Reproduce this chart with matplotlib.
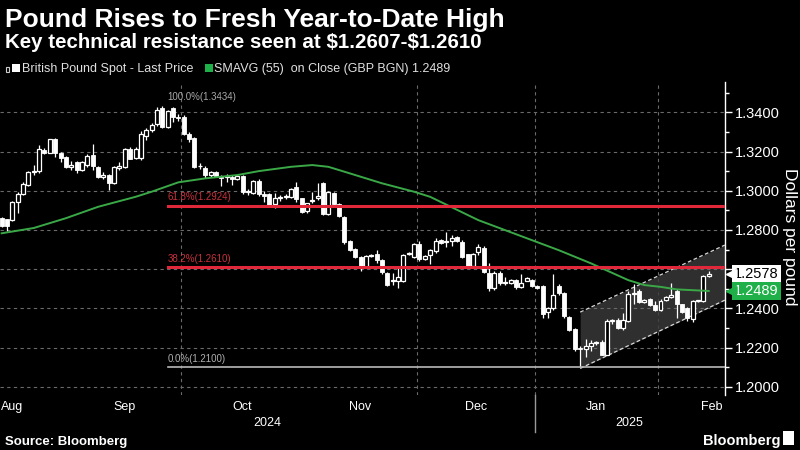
import numpy as np
import pandas as pd
import matplotlib
matplotlib.use("Agg")
import matplotlib.pyplot as plt
import matplotlib.transforms as mtransforms
from matplotlib import font_manager
from matplotlib.ticker import MultipleLocator, FuncFormatter
from matplotlib.patches import Rectangle

# ********** Data *************************************************************

dates = pd.bdate_range("2024-08-14", "2025-02-14")

opens = [1.2860, 1.2855, 1.2851, 1.2945, 1.2985, 1.3030, 1.3095, 1.3100, 1.3210, 1.3195,
         1.3262, 1.3190, 1.3172, 1.3122, 1.3145, 1.3105, 1.3130, 1.3180, 1.3120, 1.3072,
         1.3080, 1.3040, 1.3118, 1.3120, 1.3215, 1.3165, 1.3165, 1.3280, 1.3310, 1.3340,
         1.3420, 1.3327, 1.3420, 1.3376, 1.3378, 1.3290, 1.3268, 1.3124, 1.3118, 1.3080,
         1.3097, 1.3070, 1.3068, 1.3070, 1.3058, 1.3075, 1.2995, 1.2990, 1.3050, 1.2985,
         1.2985, 1.2930, 1.2965, 1.2970, 1.2970, 1.3020, 1.2962, 1.2895, 1.2950, 1.2965,
         1.3040, 1.2880, 1.2990, 1.2930, 1.2865, 1.2745, 1.2705, 1.2660, 1.2612, 1.2668,
         1.2675, 1.2645, 1.2580, 1.2540, 1.2540, 1.2540, 1.2680, 1.2660, 1.2730, 1.2650,
         1.2670, 1.2695, 1.2750, 1.2740, 1.2745, 1.2765, 1.2740, 1.2675, 1.2615, 1.2690,
         1.2710, 1.2580, 1.2505, 1.2580, 1.2530, 1.2530, 1.2545, 1.2510, 1.2540, 1.2545,
         1.2515, 1.2515, 1.2380, 1.2400, 1.2515, 1.2480, 1.2355, 1.2295, 1.2200, 1.2195,
         1.2210, 1.2225, 1.2230, 1.2165, 1.2335, 1.2340, 1.2300, 1.2335, 1.2475, 1.2490,
         1.2435, 1.2450, 1.2415, 1.2390, 1.2445, 1.2460, 1.2490, 1.2420, 1.2400, 1.2345,
         1.2440, 1.2440, 1.2565]
highs = [1.2865, 1.2858, 1.2948, 1.2993, 1.3045, 1.3100, 1.3131, 1.3233, 1.3220, 1.3265,
         1.3267, 1.3200, 1.3175, 1.3150, 1.3150, 1.3150, 1.3185, 1.3240, 1.3125, 1.3095,
         1.3085, 1.3125, 1.3145, 1.3220, 1.3225, 1.3225, 1.3305, 1.3320, 1.3345, 1.3428,
         1.3434, 1.3412, 1.3425, 1.3390, 1.3385, 1.3300, 1.3275, 1.3140, 1.3125, 1.3100,
         1.3100, 1.3080, 1.3085, 1.3080, 1.3078, 1.3078, 1.3010, 1.3055, 1.3060, 1.3000,
         1.2990, 1.2990, 1.2980, 1.2985, 1.3015, 1.3045, 1.2965, 1.2940, 1.2995, 1.3040,
         1.3045, 1.3000, 1.2995, 1.2935, 1.2870, 1.2750, 1.2710, 1.2665, 1.2670, 1.2680,
         1.2700, 1.2650, 1.2585, 1.2580, 1.2610, 1.2675, 1.2690, 1.2735, 1.2745, 1.2670,
         1.2705, 1.2760, 1.2755, 1.2790, 1.2775, 1.2768, 1.2750, 1.2680, 1.2685, 1.2730,
         1.2720, 1.2630, 1.2590, 1.2590, 1.2560, 1.2550, 1.2550, 1.2575, 1.2558, 1.2550,
         1.2520, 1.2520, 1.2405, 1.2575, 1.2525, 1.2485, 1.2360, 1.2300, 1.2210, 1.2245,
         1.2240, 1.2235, 1.2240, 1.2345, 1.2345, 1.2350, 1.2375, 1.2490, 1.2525, 1.2500,
         1.2450, 1.2455, 1.2440, 1.2450, 1.2465, 1.2530, 1.2500, 1.2425, 1.2405, 1.2445,
         1.2445, 1.2570, 1.2590]
lows = [1.2815, 1.2796, 1.2845, 1.2886, 1.2978, 1.3025, 1.3080, 1.3090, 1.3185, 1.3190,
        1.3172, 1.3147, 1.3118, 1.3105, 1.3090, 1.3100, 1.3120, 1.3105, 1.3065, 1.3060,
        1.3002, 1.3035, 1.3105, 1.3115, 1.3160, 1.3160, 1.3155, 1.3260, 1.3300, 1.3330,
        1.3322, 1.3318, 1.3350, 1.3355, 1.3285, 1.3250, 1.3115, 1.3110, 1.3065, 1.3070,
        1.3068, 1.3025, 1.3045, 1.3030, 1.3055, 1.2985, 1.2980, 1.2985, 1.2975, 1.2945,
        1.2920, 1.2910, 1.2950, 1.2960, 1.2965, 1.2945, 1.2885, 1.2885, 1.2935, 1.2955,
        1.2875, 1.2875, 1.2925, 1.2865, 1.2730, 1.2695, 1.2655, 1.2590, 1.2605, 1.2660,
        1.2630, 1.2575, 1.2515, 1.2520, 1.2503, 1.2535, 1.2670, 1.2655, 1.2640, 1.2645,
        1.2625, 1.2685, 1.2730, 1.2715, 1.2720, 1.2740, 1.2655, 1.2610, 1.2610, 1.2670,
        1.2580, 1.2490, 1.2495, 1.2520, 1.2520, 1.2525, 1.2500, 1.2505, 1.2538, 1.2510,
        1.2500, 1.2350, 1.2350, 1.2390, 1.2470, 1.2350, 1.2285, 1.2185, 1.2100, 1.2150,
        1.2185, 1.2215, 1.2160, 1.2160, 1.2320, 1.2295, 1.2290, 1.2330, 1.2420, 1.2430,
        1.2430, 1.2410, 1.2385, 1.2385, 1.2440, 1.2455, 1.2350, 1.2375, 1.2335, 1.2330,
        1.2435, 1.2435, 1.2560]
closes = [1.2820, 1.2818, 1.2943, 1.2985, 1.3035, 1.3095, 1.3100, 1.3215, 1.3195, 1.3262,
          1.3190, 1.3168, 1.3120, 1.3130, 1.3105, 1.3145, 1.3178, 1.3125, 1.3072, 1.3082,
          1.3040, 1.3120, 1.3125, 1.3215, 1.3162, 1.3215, 1.3290, 1.3310, 1.3335, 1.3410,
          1.3327, 1.3405, 1.3376, 1.3370, 1.3290, 1.3265, 1.3120, 1.3128, 1.3080, 1.3095,
          1.3073, 1.3066, 1.3073, 1.3062, 1.3075, 1.2992, 1.3000, 1.3050, 1.2985, 1.2975,
          1.2925, 1.2965, 1.2968, 1.2975, 1.3010, 1.2960, 1.2890, 1.2935, 1.2955, 1.2975,
          1.2880, 1.2995, 1.2930, 1.2870, 1.2740, 1.2700, 1.2660, 1.2610, 1.2665, 1.2672,
          1.2645, 1.2585, 1.2520, 1.2545, 1.2560, 1.2670, 1.2682, 1.2730, 1.2650, 1.2668,
          1.2700, 1.2745, 1.2735, 1.2745, 1.2760, 1.2745, 1.2660, 1.2615, 1.2680, 1.2715,
          1.2585, 1.2505, 1.2580, 1.2530, 1.2535, 1.2545, 1.2510, 1.2530, 1.2555, 1.2515,
          1.2505, 1.2370, 1.2400, 1.2470, 1.2480, 1.2360, 1.2290, 1.2195, 1.2195, 1.2210,
          1.2225, 1.2228, 1.2165, 1.2335, 1.2340, 1.2300, 1.2340, 1.2475, 1.2480, 1.2435,
          1.2445, 1.2415, 1.2390, 1.2440, 1.2460, 1.2470, 1.2420, 1.2380, 1.2350, 1.2440,
          1.2440, 1.2565, 1.2578]

# 55-day simple moving average, read at a few dates along the green line
sma_dates = ["2024-08-14", "2024-08-22", "2024-08-30", "2024-09-09", "2024-09-18",
             "2024-09-23", "2024-09-30", "2024-10-07", "2024-10-15", "2024-10-21",
             "2024-10-29", "2024-11-04", "2024-11-07", "2024-11-12", "2024-11-21",
             "2024-11-29", "2024-12-04", "2024-12-17", "2024-12-31", "2025-01-07",
             "2025-01-15", "2025-01-24", "2025-01-29", "2025-02-03", "2025-02-06",
             "2025-02-14"]
sma_values = [1.2783, 1.2810, 1.2860, 1.2918, 1.2969, 1.2995, 1.3043, 1.3063, 1.3080,
              1.3100, 1.3122, 1.3131, 1.3122, 1.3097, 1.3038, 1.2995, 1.2969, 1.2850,
              1.2748, 1.2697, 1.2630, 1.2544, 1.2519, 1.2510, 1.2497, 1.2489]

# Fibonacci retracement from the Sep high to the Jan low
fib_start = "2024-09-26"
fib_levels = [1.3434, 1.2924, 1.2610, 1.2100]
fib_labels = ["100.0%(1.3434)", "61.8%(1.2924)", "38.2%(1.2610)", "0.0%(1.2100)"]

# Rising channel drawn from the Jan low (price at start and at the right edge)
channel_start = "2025-01-13"
channel_upper = [1.2381, 1.2723]
channel_lower = [1.2094, 1.2442]

last_price = 1.2578
sma_last = 1.2489

month_starts = pd.date_range("2024-08-01", "2025-03-01", freq="MS")
grid_months = ["2024-10-01", "2024-12-01", "2025-01-01", "2025-02-01"]

# ********** Fonts *************************************************************

installed = {f.name for f in font_manager.fontManager.ttflist}
narrow = "Liberation Sans Narrow" if "Liberation Sans Narrow" in installed else "Liberation Sans"
is_narrow = narrow == "Liberation Sans Narrow"
plt.rcParams["font.family"] = ["Liberation Sans", "DejaVu Sans"]

# ********** Figure ************************************************************

fig = plt.figure(figsize=(8, 4.5), dpi=100, facecolor="black")
ax = fig.add_axes([0.0, 0.122, 0.906, 0.696])
ax.set_facecolor("black")

pos = np.arange(len(dates))
o = np.array(opens)
h = np.array(highs)
l = np.array(lows)
c = np.array(closes)

x_lo, x_hi = -0.3, 135.0
ax.set_xlim(x_lo, x_hi)
ax.set_ylim(1.1958, 1.3555)

# candles: filled white = down day, hollow = up day
up = c >= o
ax.vlines(pos, l, h, color="white", linewidth=0.9, zorder=3)
bottoms = np.minimum(o, c)
heights = np.maximum(np.abs(c - o), 0.0003)
ax.bar(pos[~up], heights[~up], bottom=bottoms[~up], width=0.74,
       color="white", edgecolor="white", linewidth=0.6, zorder=3.2)
ax.bar(pos[up], heights[up], bottom=bottoms[up], width=0.74,
       color="black", edgecolor="white", linewidth=0.9, zorder=3.2)

# moving average
sma_pos = dates.get_indexer(pd.to_datetime(sma_dates))
ax.plot(sma_pos, sma_values, color="#3aa847", linewidth=1.4, zorder=3.5)

# channel
ch0 = dates.get_loc(pd.Timestamp(channel_start))
ax.fill_between([ch0, x_hi], channel_lower, channel_upper, color="#3b3b3b",
                alpha=0.8, linewidth=0, zorder=1)
for edge in (channel_upper, channel_lower):
    ax.plot([ch0, x_hi], edge, color="#d8d8d8", linewidth=0.9,
            linestyle=(0, (3, 2)), zorder=2)

# fibonacci levels
f0 = dates.get_loc(pd.Timestamp(fib_start))
fib_colors = ["#9a9a9a", "#e0283a", "#e0283a", "#b8b8b8"]
fib_text = ["#a8a8a8", "#c8303c", "#c8303c", "#b0b0b0"]
fib_widths = [0, 2.2, 2.2, 1.2]
for lev, lab, col, tcol, lw in zip(fib_levels, fib_labels, fib_colors, fib_text, fib_widths):
    if lw > 0:
        ax.plot([f0, x_hi], [lev, lev], color=col, linewidth=lw, zorder=4)
    ax.annotate(lab, (f0, lev), xytext=(0, 2.5), textcoords="offset points",
                fontsize=7, color=tcol, ha="left", va="bottom", zorder=4)

# grid
ax.grid(axis="y", color="#6a6a6a", linestyle=(0, (3, 3)), linewidth=0.8, zorder=0.5)
for m in grid_months:
    gx = dates.searchsorted(pd.Timestamp(m)) - 0.5
    ax.axvline(gx, color="#6a6a6a", linestyle=(0, (3, 3)), linewidth=0.8, zorder=0.5)


# tick label under the last-price tag is hidden, as on the terminal
def price_fmt(v, _):
    if abs(v - last_price) < 0.004:
        return ""
    return f"{v:.4f}"


# axes styling
for side in ("left", "top", "bottom"):
    ax.spines[side].set_visible(False)
ax.spines["right"].set_color("white")
ax.spines["right"].set_linewidth(1.0)
ax.yaxis.tick_right()
ax.yaxis.set_major_locator(MultipleLocator(0.02))
ax.yaxis.set_minor_locator(MultipleLocator(0.01))
ax.yaxis.set_major_formatter(FuncFormatter(price_fmt))
ax.tick_params(axis="y", which="major", colors="white", length=5, width=1,
               labelsize=12 if is_narrow else 10.5, pad=2, labelfontfamily=narrow)
ax.tick_params(axis="y", which="minor", colors="white", length=3, width=1)
ax.set_xticks([])

# month and year labels
xt = ax.get_xaxis_transform()
start = dates[0].date()
for i in range(len(month_starts) - 1):
    a = np.busday_count(start, month_starts[i].date())
    b = np.busday_count(start, month_starts[i + 1].date()) - 1
    cx = max((a + b) / 2, x_lo + 2.2)
    ax.text(cx, -0.038, month_starts[i].strftime("%b"), transform=xt, ha="center",
            va="center", color="white", fontsize=10.5 if is_narrow else 9,
            family=narrow, clip_on=False)
year_split = dates.searchsorted(pd.Timestamp("2025-01-01")) - 0.5
ax.plot([year_split, year_split], [0, -0.118], transform=xt, clip_on=False,
        color="#9a9a9a", linewidth=1)
for yx, ytxt in (((x_lo + year_split) / 2, "2024"), ((year_split + x_hi) / 2, "2025")):
    ax.text(yx, -0.0895, ytxt, transform=xt, ha="center", va="center", color="white",
            fontsize=10.5 if is_narrow else 9, family=narrow, clip_on=False)

# price tags on the right axis
bt = mtransforms.blended_transform_factory(ax.transAxes, ax.transData)
for val, fc, tc in ((last_price, "white", "black"), (sma_last, "#20b04a", "white")):
    ax.text(1.013, val, f"{val:.4f}", transform=bt, ha="left", va="center",
            fontsize=12 if is_narrow else 10.5, family=narrow, color=tc, zorder=10,
            clip_on=False, bbox=dict(boxstyle="square,pad=0.12", fc=fc, ec="none"))
    ax.plot([1.009], [val], marker="<", markersize=7, color=fc, transform=bt,
            clip_on=False, zorder=10)

fig.text(0.9875, 0.473, "Dollars per pound", rotation=270, ha="center", va="center",
         color="white", fontsize=12.5, family=narrow)

# titles
fig.text(0.006, 0.94, "Pound Rises to Fresh Year-to-Date High", color="white",
         fontsize=19, fontweight="bold", va="baseline")
fig.text(0.006, 0.893, r"Key technical resistance seen at \$1.2607-\$1.2610", color="white",
         fontsize=14.8, fontweight="bold", va="baseline")

# legend line
fig.add_artist(Rectangle((0.0075, 0.8405), 0.0035, 0.011, transform=fig.transFigure,
                         fc="none", ec="#cccccc", lw=0.8))
fig.add_artist(Rectangle((0.015, 0.840), 0.010, 0.018, transform=fig.transFigure,
                         fc="white", ec="none"))
fig.text(0.028, 0.839, "British Pound Spot - Last Price", color="#e0e0e0", fontsize=9,
         va="baseline")
fig.add_artist(Rectangle((0.256, 0.840), 0.010, 0.018, transform=fig.transFigure,
                         fc="#20b04a", ec="none"))
fig.text(0.268, 0.839, "SMAVG (55)  on Close (GBP BGN) 1.2489", color="#e0e0e0",
         fontsize=9, va="baseline")

# footer
fig.text(0.006, 0.012, "Source: Bloomberg", color="white", fontsize=9.5,
         fontweight="bold", va="baseline")
fig.text(0.975, 0.012, "Bloomberg", color="white", fontsize=10.5, fontweight="bold",
         va="baseline", ha="right")
fig.add_artist(Rectangle((0.979, 0.012), 0.013, 0.03, transform=fig.transFigure,
                         fc="white", ec="none"))

fig.savefig("out.png", dpi=100, facecolor="black")
